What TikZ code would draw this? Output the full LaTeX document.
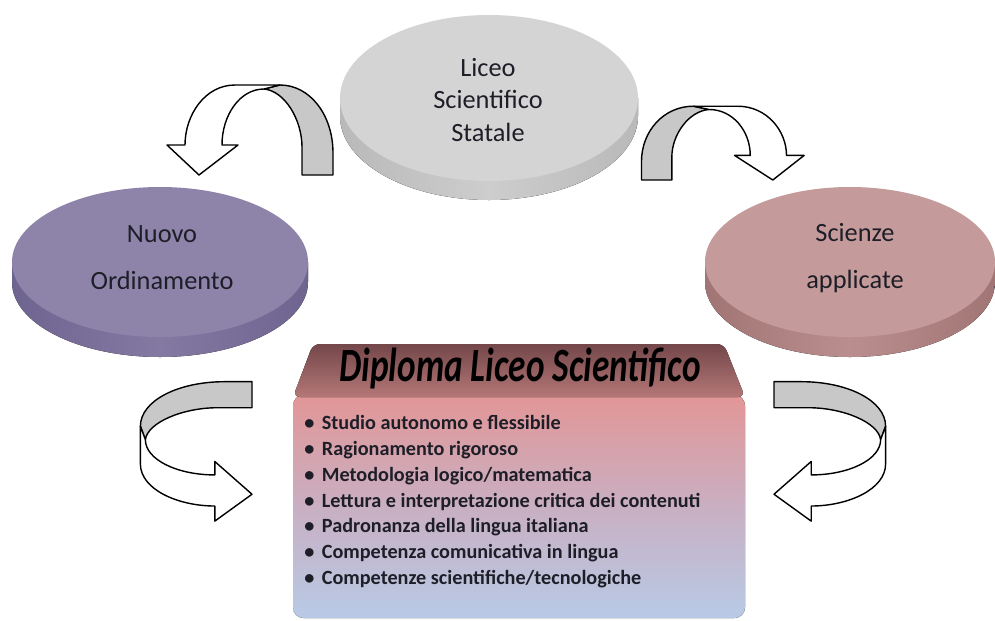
\documentclass[tikz,border=0pt]{standalone}
\usepackage{fontspec}
\setmainfont{Carlito}
\usepackage{graphicx}
\usetikzlibrary{calc}

\definecolor{txtdark}{HTML}{1E1E28}
\definecolor{arrowgray}{HTML}{C8C8C8}
\definecolor{liceotop}{HTML}{D4D4D4}
\definecolor{liceoside}{HTML}{B9B9B9}
\definecolor{liceomid}{HTML}{CDCDCD}
\definecolor{nuovotop}{HTML}{8E84AA}
\definecolor{nuovoside}{HTML}{6E6490}
\definecolor{nuovomid}{HTML}{8479A2}
\definecolor{scienzetop}{HTML}{C49A9A}
\definecolor{scienzeside}{HTML}{A27575}
\definecolor{scienzemid}{HTML}{BA8E8E}
\definecolor{boxpink}{HTML}{E29696}
\definecolor{boxmid}{HTML}{C9AFC2}
\definecolor{boxblue}{HTML}{B8CAE6}
\definecolor{headdark}{HTML}{74474A}
\definecolor{headlight}{HTML}{B47777}

\tikzset{
    arrowline/.style={draw=black, line width=0.8pt, line join=round},
    disktext/.style={align=center, text=txtdark, font=\fontsize{15}{26.6}\selectfont},
    bendarrow/.pic={
        % grey back of the ribbon
        \draw[arrowline, fill=arrowgray] (42,0) -- (73,0) -- (73,-22) .. controls (73,-60) and (50,-90) .. (20,-90)
            -- (4,-86) .. controls (25,-84) and (42,-55) .. (42,-28) -- cycle;
        % white front with the head
        \draw[arrowline, fill=white] (20,-90) -- (-25,-90) .. controls (-55,-90) and (-75,-60) .. (-75,-30)
            -- (-93,-30) -- (-61,0) -- (-22,-30) -- (-38,-30) .. controls (-38,-60) and (-20,-86) .. (4,-86) -- cycle;
    }
}

\begin{document}
\begin{tikzpicture}[x=0.02cm, y=-0.02cm]
    \useasboundingbox[fill=white] (0,0) rectangle (995,620);

    % top disk
    \fill[left color=liceoside, right color=liceoside, middle color=liceomid] (340,116) arc[start angle=180, end angle=0, x radius=149, y radius=84] -- (638,98) -- (340,98) -- cycle;
    \fill[liceotop] (489,98) ellipse[x radius=149, y radius=83];
    \node[disktext, font=\fontsize{15}{18.7}\selectfont] (liceo) at (488,100) {Liceo\\Scientifico\\Statale};

    % left disk
    \fill[left color=nuovoside, right color=nuovoside, middle color=nuovomid] (12,282) arc[start angle=180, end angle=0, x radius=148, y radius=75] -- (308,262) -- (12,262) -- cycle;
    \fill[nuovotop] (160,262) ellipse[x radius=148, y radius=75];
    \node[disktext] (nuovo) at (162,258) {Nuovo\\Ordinamento};

    % right disk
    \fill[left color=scienzeside, right color=scienzeside, middle color=scienzemid] (705,282) arc[start angle=180, end angle=0, x radius=145, y radius=75] -- (995,262) -- (705,262) -- cycle;
    \fill[scienzetop] (850,262) ellipse[x radius=145, y radius=75];
    \node[disktext] (scienze) at (855,258) {Scienze\\applicate};

    % diploma box
    \fill[rounded corners=6pt, top color=boxpink, bottom color=boxblue, middle color=boxmid] (293,395) -- (293,618) -- (745,618) -- (745,395) -- cycle;
    \fill[rounded corners=4pt, top color=headdark, bottom color=headlight] (293,397) -- (313,344) -- (724,344) -- (745,397) -- cycle;
    \node[text=black] (titolo) at (520,368) {\fontsize{17}{20}\selectfont\scalebox{1.18}[1.6]{\bfseries\itshape Diploma Liceo Scientifico}};
    \node[anchor=north west, inner sep=0pt, align=left, text=txtdark, font=\fontsize{11.5}{14.7}\selectfont\bfseries] (punti) at (304,415) {%
        \makebox[10pt][l]{\textbullet}Studio autonomo e flessibile\\
        \makebox[10pt][l]{\textbullet}Ragionamento rigoroso\\
        \makebox[10pt][l]{\textbullet}Metodologia logico/matematica\\
        \makebox[10pt][l]{\textbullet}Lettura e interpretazione critica dei contenuti\\
        \makebox[10pt][l]{\textbullet}Padronanza della lingua italiana\\
        \makebox[10pt][l]{\textbullet}Competenza comunicativa in lingua\\
        \makebox[10pt][l]{\textbullet}Competenze scientifiche/tecnologiche};

    % curved arrows
    \pic at (260,175) {bendarrow};
    \pic[xscale=-0.98, yscale=0.82] at (713,180) {bendarrow};
    \pic[rotate=90, xscale=0.84, yscale=1.24] at (252,443) {bendarrow};
    \pic[xscale=-1, rotate=90, xscale=0.84, yscale=1.24] at (774,443) {bendarrow};
\end{tikzpicture}
\end{document}
